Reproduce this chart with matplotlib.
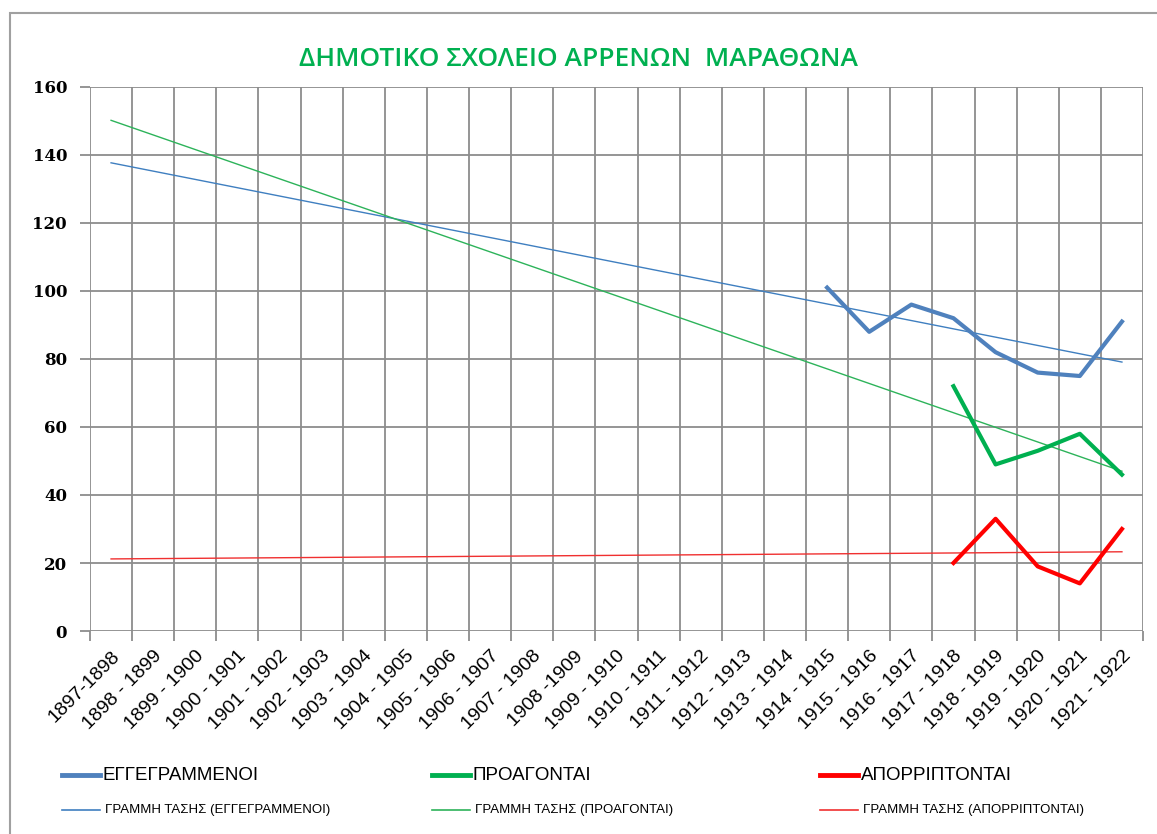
import matplotlib
matplotlib.use("Agg")
import matplotlib.pyplot as plt
from matplotlib.lines import Line2D
from matplotlib.patches import Rectangle

# school years (categories)
years = ['1897-1898', '1898 - 1899', '1899 - 1900', '1900 - 1901', '1901 - 1902',
         '1902 - 1903', '1903 - 1904', '1904 - 1905', '1905 - 1906', '1906 - 1907',
         '1907 - 1908', '1908 -1909', '1909 - 1910', '1910 - 1911', '1911 - 1912',
         '1912 - 1913', '1913 - 1914', '1914 - 1915', '1915 - 1916', '1916 - 1917',
         '1917 - 1918', '1918 - 1919', '1919 - 1920', '1920 - 1921', '1921 - 1922']

# data only exists for the last years
enrolled_years = years[17:]
enrolled = [101, 88, 96, 92, 82, 76, 75, 91]
result_years = years[20:]
promoted = [72, 49, 53, 58, 46]
failed = [20, 33, 19, 14, 30]

# trend lines (start / end values)
trend_ends = [years[0], years[-1]]
trend_enrolled = [137.7, 79.1]
trend_promoted = [150.2, 47.0]
trend_failed = [21.2, 23.3]

blue = '#4F81BD'
green = '#00B050'
red = '#FF0000'
tblue = '#3F7FC0'
tgreen = '#2DB35A'
tred = '#F03030'
grid_col = '#8C8C8C'

W, H = 1157, 834
fig = plt.figure(figsize=(W / 100, H / 100), dpi=100)
ax = fig.add_axes([90 / W, 1 - 631 / H, (1143 - 90) / W, (631 - 87) / H])

n = len(years)
pos = {y: i for i, y in enumerate(years)}

ax.plot([pos[y] for y in trend_ends], trend_enrolled, color=tblue, lw=1.0)
ax.plot([pos[y] for y in trend_ends], trend_promoted, color=tgreen, lw=1.0)
ax.plot([pos[y] for y in trend_ends], trend_failed, color=tred, lw=1.0)

ax.plot([pos[y] for y in enrolled_years], enrolled, color=blue, lw=3.0)
ax.plot([pos[y] for y in result_years], promoted, color=green, lw=3.0)
ax.plot([pos[y] for y in result_years], failed, color=red, lw=3.0)

ax.set_xlim(-0.5, n - 0.5)
ax.set_ylim(0, 160)
ax.set_yticks(range(0, 161, 20))

# category boundaries -> vertical grid + tick marks
bounds = [i - 0.5 for i in range(n + 1)]
for b in bounds:
    ax.axvline(b, color=grid_col, lw=1.3, zorder=0)
for v in range(0, 161, 20):
    ax.axhline(v, color=grid_col, lw=1.3, zorder=0)
ax.set_xticks(bounds, minor=True)
ax.set_xticks(range(n))
ax.set_xticklabels(years, rotation=45, ha='right', rotation_mode='anchor',
                   fontsize=14, family='Liberation Sans')
ax.tick_params(axis='x', which='major', length=0, pad=12)
ax.tick_params(axis='x', which='minor', length=7, color=grid_col, width=1.3)
ax.tick_params(axis='y', length=7, color=grid_col, width=1.3, pad=9.5)
for lab in ax.get_yticklabels():
    lab.set_family('DejaVu Serif')
    lab.set_fontweight('bold')
    lab.set_fontsize(12)

for s in ax.spines.values():
    s.set_visible(False)

fig.text(0.5, 1 - 60 / H, 'ΔΗΜΟΤΙΚΟ ΣΧΟΛΕΙΟ ΑΡΡΕΝΩΝ  ΜΑΡΑΘΩΝΑ', color=green,
         fontsize=19, fontweight='semibold', ha='center', va='center', family='Open Sans')

# legend, drawn by hand: two rows, three columns
leg_x = [62, 432, 820]
row1 = [(blue, 'ΕΓΓΕΓΡΑΜΜΕΝΟΙ'), (green, 'ΠΡΟΑΓΟΝΤΑΙ'), (red, 'ΑΠΟΡΡΙΠΤΟΝΤΑΙ')]
row2 = [(tblue, 'ΓΡΑΜΜΗ ΤΑΣΗΣ (ΕΓΓΕΓΡΑΜΜΕΝΟΙ)'), (tgreen, 'ΓΡΑΜΜΗ ΤΑΣΗΣ (ΠΡΟΑΓΟΝΤΑΙ)'),
        (tred, 'ΓΡΑΜΜΗ ΤΑΣΗΣ (ΑΠΟΡΡΙΠΤΟΝΤΑΙ)')]
for x0, (c, t) in zip(leg_x, row1):
    y = 1 - 775 / H
    fig.add_artist(Line2D([x0 / W, (x0 + 38) / W], [y, y], color=c, lw=3.5))
    fig.text((x0 + 41) / W, y, t, fontsize=13.5, va='center', family='Liberation Sans')
for x0, (c, t) in zip(leg_x, row2):
    y = 1 - 810 / H
    fig.add_artist(Line2D([x0 / W, (x0 + 38) / W], [y, y], color=c, lw=1.2))
    fig.text((x0 + 43) / W, y, t, fontsize=9.5, va='center', family='Liberation Sans')

# outer chart border
fig.add_artist(Rectangle((10 / W, -0.05), 1.2, 1 - 13 / H + 0.05, transform=fig.transFigure,
                         fill=False, edgecolor='#A0A0A0', lw=1.5))

fig.savefig('out.png', dpi=100)
